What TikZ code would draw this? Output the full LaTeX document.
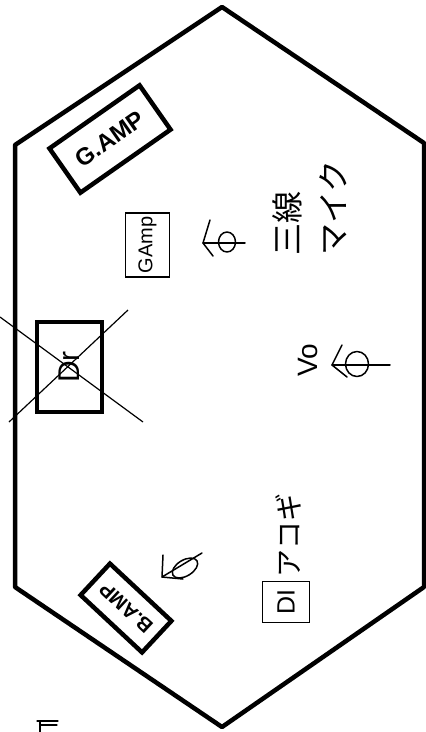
\documentclass[tikz,border=0pt]{standalone}
\usepackage{fontspec}
\setmainfont{Liberation Sans}
\newfontfamily\jpfont{Noto Sans CJK JP}
\begin{document}
\begin{tikzpicture}[x=1pt,y=-1pt,
  heavy/.style={line width=4.5pt},
  ampbox/.style={draw, line width=4.5pt, inner sep=0pt, font=\bfseries},
  pen/.style={line width=1.5pt, line cap=round, line join=round},
  penbox/.style={draw, line width=1.4pt, inner sep=0pt},
  crossline/.style={line width=1.2pt},
  hand/.style={inner sep=0pt}
]
\useasboundingbox (0,0) rectangle (426,732);
% stage outline
\draw[heavy, line join=round] (222,7) -- (15,145) -- (15,587) -- (222,727) -- (424,587) -- (424,143) -- cycle;

% amps
\node[ampbox, minimum width=110pt, minimum height=54pt, rotate=35,
      font=\bfseries\fontsize{24}{24}\selectfont] (gamp) at (110,139) {G.AMP};
\node[ampbox, minimum width=84pt, minimum height=43pt, rotate=137,
      font=\bfseries\fontsize{20}{20}\selectfont] (bamp) at (126,608) {B.AMP};

% drums (crossed out)
\node[draw, line width=4.5pt, minimum width=65pt, minimum height=90pt] (drbox) at (69.5,367) {};
\node[hand, rotate=90, font=\fontsize{30}{30}\selectfont] (drtext) at (drbox.center) {Dr};
\draw[crossline] (0,317) -- (143,422);
\draw[crossline] (128,310) -- (9,422);

% small guitar amp
\node[penbox, rotate=90, minimum width=64pt, minimum height=44pt,
      font=\fontsize{20}{20}\selectfont] (gampsmall) at (147.5,245) {GAmp};

% guitar mic
\draw[pen] (227,242) ellipse [x radius=8.5, y radius=10];
\draw[pen] (203,243) -- (245,243);
\draw[pen] (210,220) -- (203,243) -- (213,256);

% vocal mic
\draw[pen] (357,364) ellipse [x radius=11.5, y radius=12.5];
\draw[pen] (332,365) -- (390,365);
\draw[pen] (342,345) -- (332,365) -- (347,377);
\node[hand, rotate=90, font=\fontsize{28}{28}\selectfont] (vo) at (308,360) {Vo};

% bass mic
\draw[pen, rotate around={31:(185,568)}] (185,568) ellipse [x radius=14, y radius=8];
\draw[pen] (162,577) -- (202,553);
\draw[pen] (163,555) -- (162,577) -- (183,579);

% sanshin mic label
\node[hand, rotate=90, align=left, font=\jpfont\fontsize{32}{46}\selectfont] (sanshin) at (310,208) {三線\\マイク};

% DI acoustic guitar
\node[penbox, rotate=90, minimum width=41pt, minimum height=47pt,
      font=\fontsize{25}{25}\selectfont] (di) at (286,602) {DI};
\node[hand, rotate=90, font=\jpfont\fontsize{28}{28}\selectfont] (acogi) at (288,535) {アコギ};

% cut-off mark at bottom left
\draw[pen, line width=1.2pt] (37,721) -- (58,721);
\draw[pen, line width=1.2pt] (41,725) -- (57,725);
\draw[pen, line width=1.2pt] (40,721) -- (40,732);
\end{tikzpicture}
\end{document}
